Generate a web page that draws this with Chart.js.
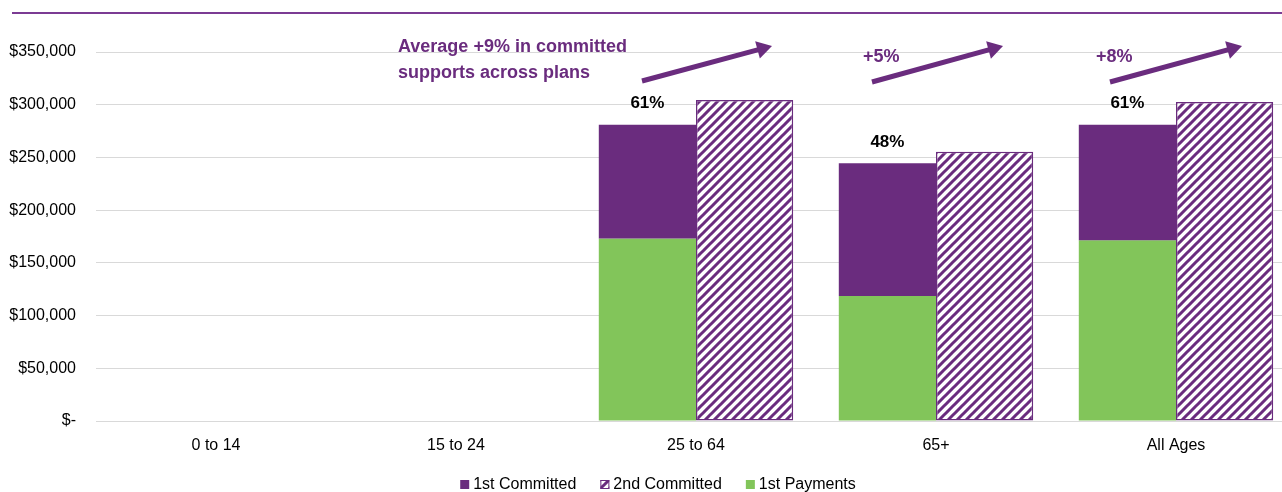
<!DOCTYPE html>
<html><head><meta charset="utf-8">
<script src="https://cdn.jsdelivr.net/npm/chart.js@4/dist/chart.umd.min.js"></script>
<style>
html,body{margin:0;padding:0;overflow:hidden;background:#fff;width:1282px;height:492px}
#wrap{position:relative;width:1300px;height:492px}
</style></head><body><div id="wrap"><canvas id="c" width="1300" height="492"></canvas></div>
<script>
// ---- data ----
const categories = ['0 to 14', '15 to 24', '25 to 64', '65+', 'All Ages'];
const firstPayments   = [null, null, 173000, 118500, 171500];
const firstCommitted  = [null, null, 281000, 244500, 281000];
const secondCommitted = [null, null, 304500, 255500, 302500];
const paymentShareLabels = [null, null, '61%', '48%', '61%'];
const growthLabels = [null, null, ['Average +9% in committed', 'supports across plans'], ['+5%'], ['+8%']];
const yTickValues = [0, 50000, 100000, 150000, 200000, 250000, 300000, 350000];
const legendOrder = [0, 1, 2];

const PURPLE = '#6a2c7e';
const GREEN = '#82c55a';
const FONT = '"Liberation Sans", Arial, sans-serif';

function makeHatch() {
  const s = 9;
  const c = document.createElement('canvas'); c.width = s; c.height = s;
  const x = c.getContext('2d');
  x.fillStyle = '#fff'; x.fillRect(0, 0, s, s);
  x.strokeStyle = PURPLE; x.lineWidth = 3; x.lineCap = 'square';
  x.beginPath();
  x.moveTo(-2, s + 2); x.lineTo(s + 2, -2);
  x.moveTo(-2, 2); x.lineTo(2, -2);
  x.moveTo(s - 2, s + 2); x.lineTo(s + 2, s - 2);
  x.stroke();
  return x.createPattern(c, 'repeat');
}
const hatch = makeHatch();

// layout offsets for callouts (pixels relative to category centre / chart top)
const calloutLayout = {
  2: {textX: -298, textY: [-5, 21], a0: [-54, 29], a1: [76, -6]},
  3: {textX: -73, textY: [5], a0: [-64, 30], a1: [67, -6]},
  4: {textX: -80, textY: [5], a0: [-66, 30], a1: [66, -6]}
};

function drawArrow(ctx, x0, y0, x1, y1) {
  const ang = Math.atan2(y1 - y0, x1 - x0);
  const headLen = 15, headHalf = 9;
  const bx = x1 - headLen * Math.cos(ang), by = y1 - headLen * Math.sin(ang);
  ctx.save();
  ctx.strokeStyle = PURPLE; ctx.fillStyle = PURPLE;
  ctx.lineWidth = 5; ctx.lineCap = 'butt';
  ctx.beginPath(); ctx.moveTo(x0, y0); ctx.lineTo(bx + Math.cos(ang), by + Math.sin(ang)); ctx.stroke();
  ctx.beginPath();
  ctx.moveTo(x1, y1);
  ctx.lineTo(bx + headHalf * Math.sin(ang), by - headHalf * Math.cos(ang));
  ctx.lineTo(bx - headHalf * Math.sin(ang), by + headHalf * Math.cos(ang));
  ctx.closePath(); ctx.fill();
  ctx.restore();
}

const annotations = {
  id: 'annotations',
  afterDatasetsDraw(chart) {
    const ctx = chart.ctx;
    const xs = chart.scales.x;
    const top = chart.chartArea.top;
    // top rule
    ctx.save();
    ctx.strokeStyle = '#7b3b93'; ctx.lineWidth = 2;
    ctx.beginPath(); ctx.moveTo(12, 13); ctx.lineTo(chart.width, 13); ctx.stroke();
    ctx.restore();
    // percentage labels on 1st committed bars
    const meta = chart.getDatasetMeta(0);
    ctx.save();
    ctx.font = 'bold 17px ' + FONT; ctx.fillStyle = '#000';
    ctx.textAlign = 'center'; ctx.textBaseline = 'middle';
    paymentShareLabels.forEach((t, i) => {
      if (!t) return;
      const el = meta.data[i];
      ctx.fillText(t, el.x, el.y - 21);
    });
    ctx.restore();
    // callouts
    growthLabels.forEach((lines, i) => {
      if (!lines) return;
      const L = calloutLayout[i];
      const cx = xs.getPixelForValue(i);
      ctx.save();
      ctx.font = 'bold 18px ' + FONT; ctx.fillStyle = PURPLE;
      ctx.textAlign = 'left'; ctx.textBaseline = 'middle';
      lines.forEach((ln, k) => ctx.fillText(ln, cx + L.textX, top + L.textY[k]));
      ctx.restore();
      drawArrow(ctx, cx + L.a0[0], top + L.a0[1], cx + L.a1[0], top + L.a1[1]);
    });
  },
  afterDraw(chart) {
    // legend (box, small gap, text), centred under the plot
    const ctx = chart.ctx;
    const box = 9, gap = 4, spacing = 24, centreX = 658, midY = 484.5;
    ctx.save();
    ctx.font = '16px ' + FONT;
    const items = legendOrder.map(i => {
      const ds = chart.data.datasets[i];
      return {ds, w: ctx.measureText(ds.label).width};
    });
    const total = items.reduce((a, it) => a + box + gap + it.w, 0) + spacing * (items.length - 1);
    let x = centreX - total / 2;
    ctx.textBaseline = 'middle'; ctx.textAlign = 'left';
    items.forEach(it => {
      ctx.fillStyle = it.ds.backgroundColor;
      ctx.fillRect(x, midY - box / 2, box, box);
      if (it.ds.borderWidth) {
        ctx.strokeStyle = it.ds.borderColor; ctx.lineWidth = 1;
        ctx.strokeRect(x + 0.5, midY - box / 2 + 0.5, box - 1, box - 1);
      }
      ctx.fillStyle = '#000';
      ctx.fillText(it.ds.label, x + box + gap, midY);
      x += box + gap + it.w + spacing;
    });
    ctx.restore();
  }
};

new Chart(document.getElementById('c'), {
  type: 'bar',
  data: {
    labels: categories,
    datasets: [
      {
        label: '1st Committed',
        data: firstCommitted.map((v, i) => v == null ? null : [firstPayments[i], v]),
        backgroundColor: PURPLE,
        borderWidth: 0,
        stack: 'first'
      },
      {
        label: '2nd Committed',
        data: secondCommitted,
        backgroundColor: hatch,
        borderColor: PURPLE,
        borderWidth: 1.5,
        borderSkipped: false,
        stack: 'second'
      },
      {
        label: '1st Payments',
        data: firstPayments,
        backgroundColor: GREEN,
        borderWidth: 0,
        stack: 'first'
      }
    ]
  },
  options: {
    responsive: false,
    devicePixelRatio: 1,
    animation: false,
    layout: {padding: {left: 0, right: 4, top: 52, bottom: 31}},
    categoryPercentage: 0.81,
    barPercentage: 1.0,
    plugins: {
      tooltip: {enabled: false},
      legend: {display: false}
    },
    scales: {
      x: {
        stacked: true,
        grid: {display: false, drawTicks: false},
        border: {display: false},
        ticks: {color: '#000', font: {family: FONT, size: 16}, padding: 15, maxRotation: 0},
        afterFit(s) { s.height = 40; }
      },
      y: {
        stacked: false,
        min: 0, max: 350000,
        afterBuildTicks(s) { s.ticks = yTickValues.map(v => ({value: v})); },
        afterFit(s) { s.width = 96; },
        grid: {color: '#d9d9d9', lineWidth: 1, drawTicks: false},
        border: {display: false},
        ticks: {
          color: '#000', padding: 20,
          font: {family: FONT, size: 16},
          callback: v => v === 0 ? '$-' : '$' + v.toLocaleString('en-US')
        }
      }
    }
  },
  plugins: [annotations]
});
</script>
</body></html>
